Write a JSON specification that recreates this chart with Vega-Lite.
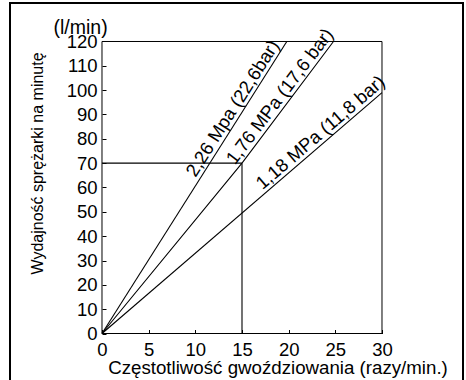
{
  "$schema": "https://vega.github.io/schema/vega-lite/v6.json",
  "width": 453,
  "height": 379,
  "autosize": {"type": "none"},
  "padding": {"left": 10, "top": 3, "right": 3, "bottom": 0},
  "background": "white",
  "title": {"text": "(l/min)", "anchor": "start", "frame": "group", "orient": "top", "offset": 0, "dx": 43.5, "dy": 50, "baseline": "alphabetic", "fontSize": 19.5, "fontWeight": "normal", "font": "Liberation Sans", "color": "#000"},
  "config": {
    "view": {"stroke": "#000", "strokeWidth": 2, "fill": "white"},
    "font": "Liberation Sans",
    "axis": {"grid": false, "domain": false, "tickColor": "#000", "tickWidth": 1, "labelColor": "#000", "titleColor": "#000", "labelFont": "Liberation Sans", "titleFont": "Liberation Sans", "titleFontWeight": "normal", "labelOverlap": false, "labelBound": false, "labelFlush": false}
  },
  "datasets": {
    "frame": [{"x0": 0, "x1": 30, "y0": 0, "y1": 120}],
    "lines": [
      {"series": "2,26 MPa", "x": 0, "y": 0},
      {"series": "2,26 MPa", "x": 19.8, "y": 120},
      {"series": "1,76 MPa", "x": 0, "y": 0},
      {"series": "1,76 MPa", "x": 15, "y": 70},
      {"series": "1,76 MPa", "x": 24.8, "y": 120},
      {"series": "1,18 MPa", "x": 0, "y": 0},
      {"series": "1,18 MPa", "x": 30, "y": 99},
      {"series": "h", "x": 0, "y": 70},
      {"series": "h", "x": 15, "y": 70},
      {"series": "v", "x": 15, "y": 0},
      {"series": "v", "x": 15, "y": 70}
    ],
    "labels": [
      {"label": "2,26 Mpa (22,6bar)", "x": 14.9, "y": 90.3},
      {"label": "1,76 MPa (17,6 bar)", "x": 19.9, "y": 95},
      {"label": "1,18 MPa (11,8 bar)", "x": 24.1, "y": 79.5}
    ]
  },
  "encoding": {
    "x": {"type": "quantitative",
      "scale": {"domain": [-9.857, 38.679], "nice": false, "zero": false},
      "axis": {"values": [0, 5, 10, 15, 20, 25, 30], "offset": -48.5, "tickSize": -4, "labelPadding": 25.5, "labelBaseline": "alphabetic", "labelFontSize": 18.5, "labelOverlap": false,
        "title": "Częstotliwość gwoździowania (razy/min.)", "titleFontSize": 18.7, "titleX": 267.5, "titleY": 39.5, "titleAlign": "center", "titleBaseline": "alphabetic", "titleAnchor": "middle"}},
    "y": {"type": "quantitative",
      "scale": {"domain": [-19.93, 135.82], "nice": false, "zero": false},
      "axis": {"values": [0, 10, 20, 30, 40, 50, 60, 70, 80, 90, 100, 110, 120], "offset": -92, "tickSize": -4, "labelPadding": 9, "labelFontSize": 18.5, "labelOverlap": false,
        "title": "Wydajność sprężarki na minutę", "titleFontSize": 16, "titleAngle": 270, "titleX": -60, "titleY": 160, "titleAlign": "center", "titleBaseline": "alphabetic", "titleAnchor": "middle"}}
  },
  "layer": [
    {
      "data": {"name": "frame"},
      "mark": {"type": "rect", "fill": "transparent", "stroke": "#000", "strokeWidth": 1},
      "encoding": {
        "x": {"field": "x0"},
        "x2": {"field": "x1"},
        "y": {"field": "y0"},
        "y2": {"field": "y1"}
      }
    },
    {
      "data": {"name": "lines"},
      "mark": {"type": "line", "color": "#000", "strokeWidth": 1.1},
      "encoding": {
        "x": {"field": "x"},
        "y": {"field": "y"},
        "detail": {"field": "series"}
      }
    },
    {
      "data": {"name": "labels"},
      "transform": [{"filter": "datum.label === '2,26 Mpa (22,6bar)'"}],
      "mark": {"type": "text", "angle": 302.5, "align": "center", "baseline": "bottom", "fontSize": 18.5, "font": "Liberation Sans", "color": "#000"},
      "encoding": {"x": {"field": "x"}, "y": {"field": "y"}, "text": {"field": "label"}}
    },
    {
      "data": {"name": "labels"},
      "transform": [{"filter": "datum.label === '1,76 MPa (17,6 bar)'"}],
      "mark": {"type": "text", "angle": 307, "align": "center", "baseline": "bottom", "fontSize": 18.5, "font": "Liberation Sans", "color": "#000"},
      "encoding": {"x": {"field": "x"}, "y": {"field": "y"}, "text": {"field": "label"}}
    },
    {
      "data": {"name": "labels"},
      "transform": [{"filter": "datum.label === '1,18 MPa (11,8 bar)'"}],
      "mark": {"type": "text", "angle": 319.3, "align": "center", "baseline": "bottom", "fontSize": 18.5, "font": "Liberation Sans", "color": "#000"},
      "encoding": {"x": {"field": "x"}, "y": {"field": "y"}, "text": {"field": "label"}}
    }
  ]
}
